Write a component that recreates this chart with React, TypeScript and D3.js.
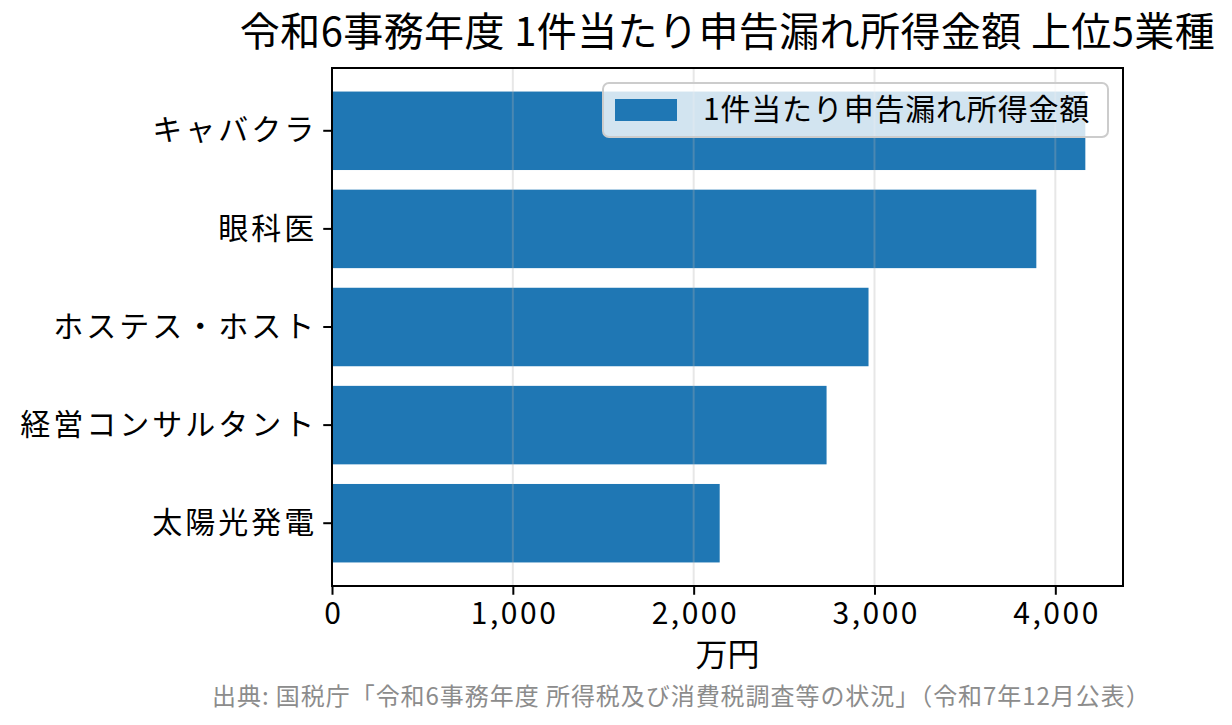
import { useEffect, useRef } from "react";
import * as d3 from "d3";

// データ（単位: 万円）
const categories = ["キャバクラ", "眼科医", "ホステス・ホスト", "経営コンサルタント", "太陽光発電"];
const amounts = [4166, 3895, 2967, 2735, 2144];
const xTicks = [0, 1000, 2000, 3000, 4000];

const titleText = "令和6事務年度 1件当たり申告漏れ所得金額 上位5業種";
const legendLabel = "1件当たり申告漏れ所得金額";
const xLabel = "万円";
const sourceText = "出典: 国税庁「令和6事務年度 所得税及び消費税調査等の状況」（令和7年12月公表）";

const W = 1232;
const H = 725;
const FONT = "'Noto Sans CJK JP', 'Noto Sans', sans-serif";
const BLUE = "#1f77b4";

const App = () => {
    const ref = useRef<SVGSVGElement>(null);

    useEffect(() => {
        const svg = d3.select(ref.current);
        svg.selectAll("*").remove();

        const margin = { top: 68, right: W - 1123, bottom: H - 586, left: 332 };
        const innerW = W - margin.left - margin.right;
        const innerH = H - margin.top - margin.bottom;

        const x = d3.scaleLinear()
            .domain([0, (d3.max(amounts) as number) * 1.05])
            .range([0, innerW]);

        const y = d3.scaleBand<string>()
            .domain(categories)
            .range([0, innerH])
            .paddingInner(0.2)
            .paddingOuter(0.24);

        const g = svg.append("g")
            .attr("transform", `translate(${margin.left},${margin.top})`);

        // bars
        g.selectAll("rect.bar")
            .data(categories)
            .join("rect")
            .attr("class", "bar")
            .attr("x", x(0))
            .attr("y", (d) => y(d) as number)
            .attr("width", (d, i) => x(amounts[i]) - x(0))
            .attr("height", y.bandwidth())
            .attr("fill", BLUE);

        // grid (drawn over bars, like the original)
        g.selectAll("line.grid")
            .data(xTicks)
            .join("line")
            .attr("class", "grid")
            .attr("x1", (d) => x(d))
            .attr("x2", (d) => x(d))
            .attr("y1", 0)
            .attr("y2", innerH)
            .attr("stroke", "#b0b0b0")
            .attr("stroke-opacity", 0.3)
            .attr("stroke-width", 2);

        // x axis
        const xAxis = g.append("g")
            .attr("transform", `translate(0,${innerH})`)
            .call(d3.axisBottom(x).tickValues(xTicks).tickFormat(d3.format(",") as any)
                .tickSizeInner(8.75).tickSizeOuter(0).tickPadding(8));
        xAxis.select(".domain").remove();
        xAxis.selectAll(".tick line").attr("stroke", "#000").attr("stroke-width", 2);
        xAxis.selectAll(".tick text")
            .attr("font-family", FONT)
            .attr("font-size", 30)
            .attr("letter-spacing", 2.5)
            .attr("dx", 1.25)
            .attr("fill", "#000");

        // y axis
        const yAxis = g.append("g")
            .call(d3.axisLeft(y).tickSizeInner(8.75).tickSizeOuter(0).tickPadding(9));
        yAxis.select(".domain").remove();
        yAxis.selectAll(".tick line").attr("stroke", "#000").attr("stroke-width", 2);
        yAxis.selectAll(".tick text")
            .attr("font-family", FONT)
            .attr("font-size", 30)
            .attr("letter-spacing", 3)
            .attr("dx", 3)
            .attr("fill", "#000");

        // frame
        g.append("rect")
            .attr("x", 0)
            .attr("y", 0)
            .attr("width", innerW)
            .attr("height", innerH)
            .attr("fill", "none")
            .attr("stroke", "#000")
            .attr("stroke-width", 2);

        // legend
        const leg = svg.append("g").attr("transform", "translate(603,83)");
        leg.append("rect")
            .attr("width", 505)
            .attr("height", 54)
            .attr("rx", 6)
            .attr("fill", "#fff")
            .attr("fill-opacity", 0.8)
            .attr("stroke", "#cccccc")
            .attr("stroke-width", 2);
        leg.append("rect")
            .attr("x", 12)
            .attr("y", 16)
            .attr("width", 62)
            .attr("height", 22)
            .attr("fill", BLUE);
        leg.append("text")
            .attr("x", 100)
            .attr("y", 37)
            .attr("font-family", FONT)
            .attr("font-size", 30)
            .attr("letter-spacing", 0.8)
            .attr("fill", "#000")
            .text(legendLabel);

        // title
        svg.append("text")
            .attr("x", margin.left + innerW / 2)
            .attr("y", 46)
            .attr("text-anchor", "middle")
            .attr("font-family", FONT)
            .attr("font-size", 40)
            .attr("letter-spacing", 0.4)
            .attr("fill", "#000")
            .text(titleText);

        // x label
        svg.append("text")
            .attr("x", margin.left + innerW / 2)
            .attr("y", 666)
            .attr("text-anchor", "middle")
            .attr("font-family", FONT)
            .attr("font-size", 32)
            .attr("fill", "#000")
            .text(xLabel);

        // source
        svg.append("text")
            .attr("x", 212)
            .attr("y", 705)
            .attr("font-family", FONT)
            .attr("font-size", 24)
            .attr("letter-spacing", 0.95)
            .attr("fill", "#8c8c8c")
            .text(sourceText);
    }, []);

    return (
        <div style={{ position: "absolute", left: 0, top: 0 }}>
            <svg ref={ref} width={W} height={H} style={{ display: "block", background: "#fff" }}></svg>
        </div>
    );
};

export default App;
